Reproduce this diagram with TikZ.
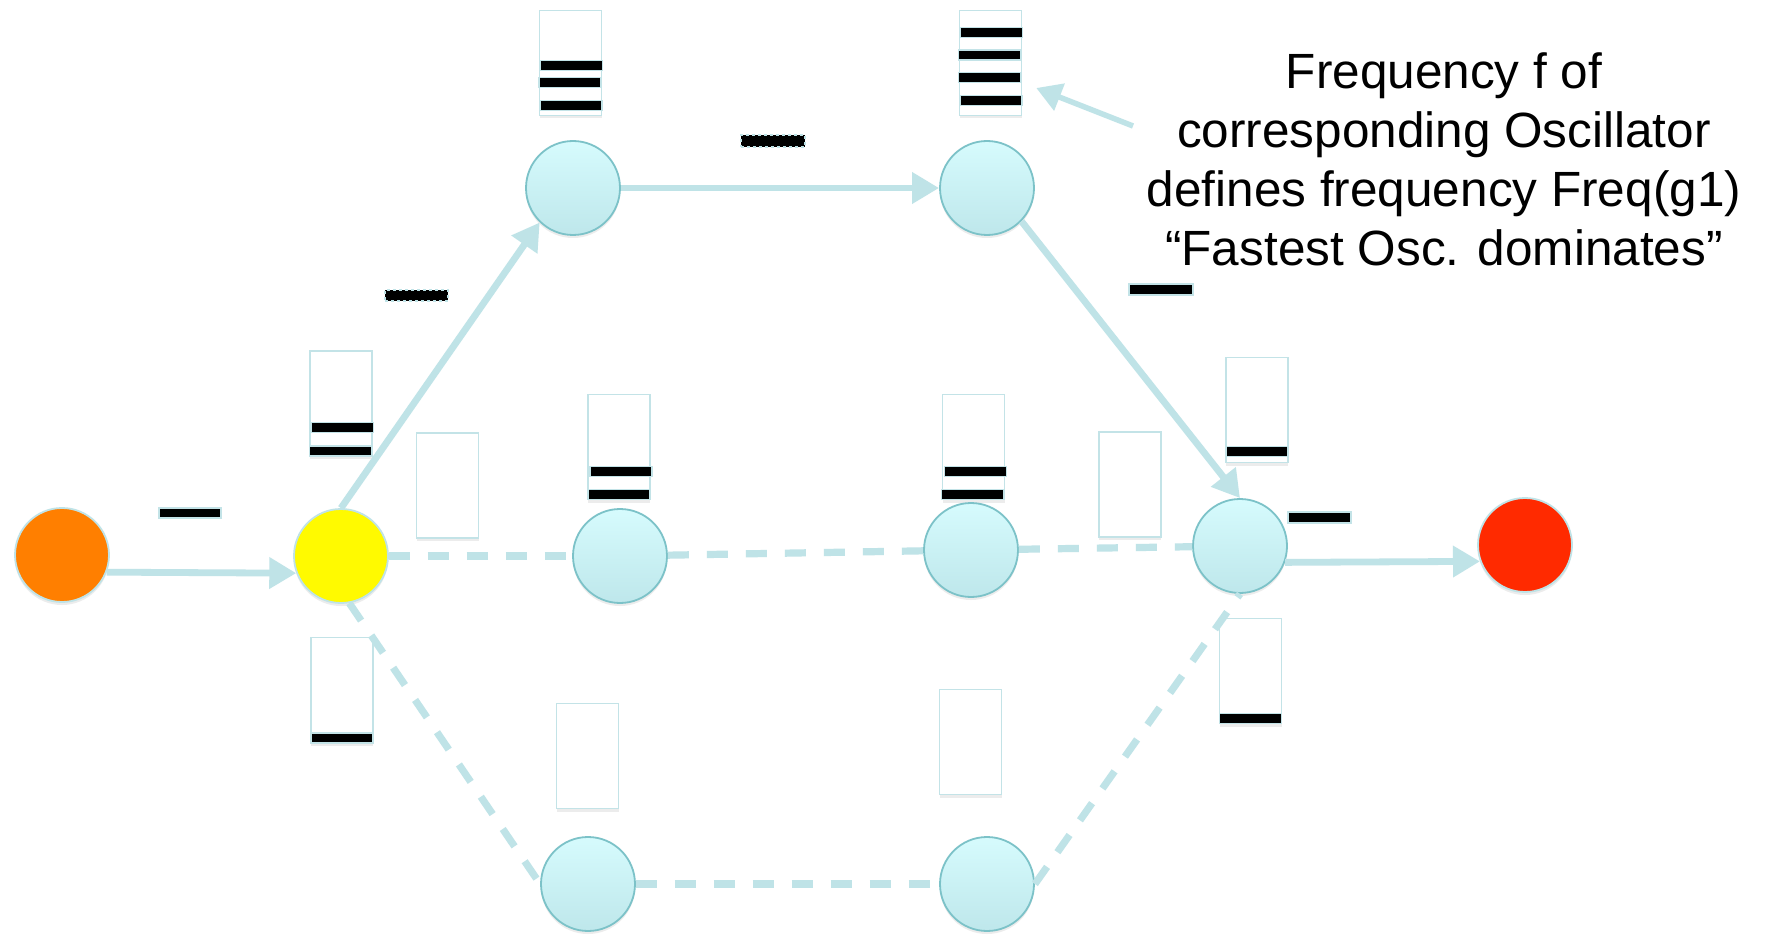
\documentclass[tikz,border=0pt]{standalone}
\usepackage{fontspec}
\setmainfont{Liberation Sans}
\usetikzlibrary{arrows.meta,shadows}
\definecolor{edgec}{HTML}{BFE3E7}
\definecolor{ringc}{HTML}{7CC2C8}
\definecolor{topc}{HTML}{D6FBFD}
\definecolor{botc}{HTML}{BEE7EB}
\definecolor{orangec}{HTML}{FF7F00}
\definecolor{yellowc}{HTML}{FFFA00}
\definecolor{redc}{HTML}{FF2A00}
\definecolor{tankc}{HTML}{C3E3E7}
\begin{document}
\begin{tikzpicture}[x=1pt,y=-1pt,
  softshadow/.style={drop shadow={shadow xshift=0pt, shadow yshift=-3pt, opacity=0.15}},
  osc/.style={circle, minimum size=94pt, inner sep=0pt, line width=1.8pt, softshadow},
  bluenode/.style={osc, draw=ringc, top color=topc, bottom color=botc},
  endnode/.style={osc, draw=edgec},
  tank/.style={rectangle, draw=tankc, line width=1.5pt, fill=white, inner sep=0pt, minimum width=62pt, minimum height=105pt, softshadow},
  tok/.style={rectangle, draw=tankc, line width=1.5pt, fill=black, inner sep=0pt, minimum width=62pt, minimum height=10pt},
  dashtok/.style={tok, draw=edgec, dashed},
  solidedge/.style={draw=edgec, line width=6.8pt, -{Triangle[length=27pt,width=30pt]}},
  dashedge/.style={draw=edgec, line width=7.2pt, dash pattern=on 21pt off 18pt},
]
\useasboundingbox (0,0) rectangle (1767,936);
\fill[white] (0,0) rectangle (1767,936);

% oscillator tanks
\node[tank] (boxA) at (341,403.5) {};
\node[tank] (boxB) at (447.5,485.5) {};
\node[tank] (boxC) at (619,447) {};
\node[tank] (boxD) at (973.5,447) {};
\node[tank] (boxE) at (570.5,63) {};
\node[tank] (boxF) at (990.5,63) {};
\node[tank] (boxG) at (1130,484.5) {};
\node[tank] (boxH) at (1257,410) {};
\node[tank] (boxI) at (1250.5,671) {};
\node[tank] (boxJ) at (342,690) {};
\node[tank] (boxK) at (587.5,756) {};
\node[tank] (boxL) at (970.5,742) {};

% tokens inside tanks
\node[tok] (a1) at (342.5,427.5) {};
\node[tok] (a2) at (340.5,451) {};
\node[tok] (c1) at (621,471.5) {};
\node[tok] (c2) at (619,494.5) {};
\node[tok] (d1) at (975.5,471.5) {};
\node[tok] (d2) at (972.5,494.5) {};
\node[tok] (e1) at (571.5,65.5) {};
\node[tok] (e2) at (570,82.5) {};
\node[tok] (e3) at (571,105.5) {};
\node[tok] (f1) at (991.5,32.5) {};
\node[tok] (f2) at (989.5,55) {};
\node[tok] (f3) at (989.5,77.5) {};
\node[tok] (f4) at (991,100.5) {};
\node[tok] (h1) at (1257,451.5) {};
\node[tok] (i1) at (1250.5,718.5) {};
\node[tok] (j1) at (342,738) {};

% tokens on edges
\node[tok] (t1) at (190,513) {};
\node[dashtok, minimum height=11pt, minimum width=63pt] (t2) at (416.5,295.5) {};
\node[dashtok, minimum height=12pt, minimum width=64pt] (t3) at (773,141) {};
\node[tok, minimum height=11pt, minimum width=64pt] (t4) at (1161,289.5) {};
\node[tok, minimum height=11pt, minimum width=63pt] (t5) at (1319.5,517.5) {};

% nodes
\node[endnode, fill=orangec] (orange) at (62,555) {};
\node[endnode, fill=yellowc] (yellow) at (341,556) {};
\node[bluenode] (TL) at (573,188) {};
\node[bluenode] (TR) at (987,188) {};
\node[bluenode] (M1) at (620,556) {};
\node[bluenode] (M2) at (971,550) {};
\node[bluenode] (R) at (1240,546) {};
\node[endnode, fill=redc] (red) at (1525,545) {};
\node[bluenode] (B1) at (588,884) {};
\node[bluenode] (B2) at (987,884) {};

% dashed connectors
\draw[dashedge] (yellow) -- (M1);
\draw[dashedge] (M1) -- (M2);
\draw[dashedge] (M2) -- (R);
\draw[dashedge] (yellow.-80) -- (B1.west);
\draw[dashedge] (B1) -- (B2);
\draw[dashedge] (B2.east) -- (R.south);

% solid connectors
\draw[solidedge] (orange.-21) -- (yellow.201);
\draw[solidedge] (yellow.north) -- (TL.226);
\draw[solidedge] (TL) -- (TR);
\draw[solidedge] (TR.-44) -- (R.north);
\draw[solidedge] (R.-20) -- (red.200);

% annotation
\node[font=\fontsize{49.5}{59}\selectfont, align=center, anchor=north, inner sep=0pt] (note) at (1444,52)
  {Frequency f of\\corresponding Oscillator\\defines frequency Freq(g1)\\“Fastest Osc. dominates”};
\coordinate (calltail) at (1133,126);
\draw[draw=edgec, line width=5.5pt, -{Triangle[length=25pt,width=28pt]}] (calltail) -- ([shift={(14pt,-25pt)}]boxF.east);
\end{tikzpicture}
\end{document}
